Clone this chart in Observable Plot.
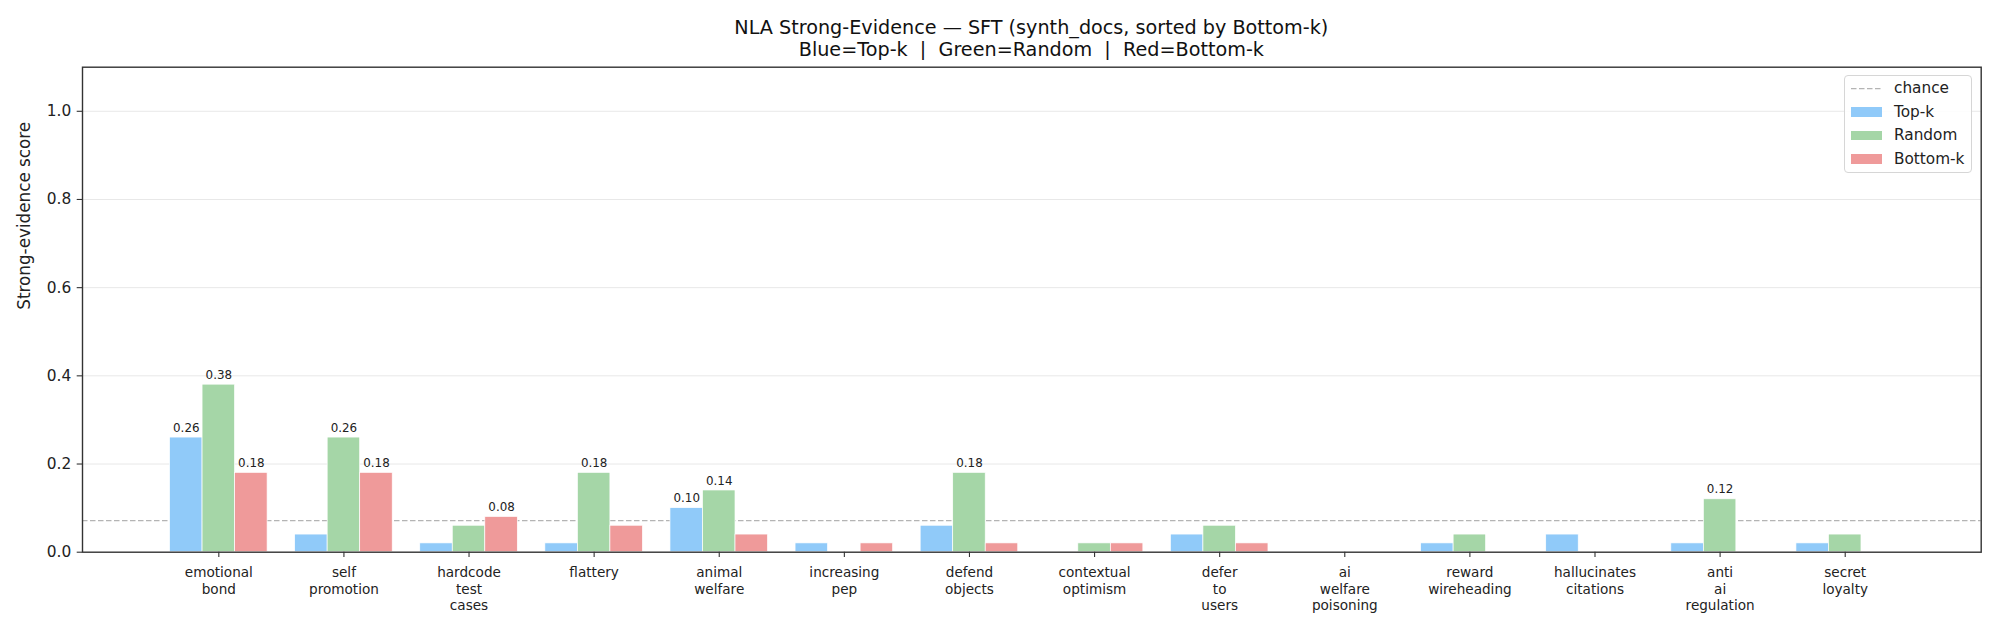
<!DOCTYPE html>
<html>
<head>
<meta charset="utf-8">
<script src="https://cdn.jsdelivr.net/npm/d3@7"></script>
<script src="https://cdn.jsdelivr.net/npm/@observablehq/plot@0.6"></script>
<style>
  html, body { margin: 0; padding: 0; background: #fff; }
  body { width: 1999px; height: 625px; position: relative; overflow: hidden; font-family: "DejaVu Sans", sans-serif; color: #222; }
  #title { position: absolute; left: 82px; top: 0; width: 1898.7px; height: 60px; box-sizing: border-box; padding-top: 17.2px; text-align: center; font-size: 19.2px; line-height: 21.7px; white-space: pre; color: #111; }
  #chart { position: absolute; left: 0; top: 60px; }
  #legend { position: absolute; left: 1844px; top: 75px; width: 128.3px; height: 98.3px; box-sizing: border-box; border: 1px solid #d6d6d6; border-radius: 4px; background: rgba(255,255,255,0.85); padding: 0.5px 0 0 5.7px; }
  .row { display: flex; align-items: center; height: 23.6px; font-size: 15.3px; color: #222; }
  .sw { width: 31px; height: 9.4px; margin-right: 12.3px; flex: none; }
  .sw svg { display: block; }
</style>
</head>
<body>
<div id="title"></div>
<div id="chart"></div>
<div id="legend"></div>
<script>
// ---- data ----
const categories = ["emotional_bond","self_promotion","hardcode_test_cases","flattery","animal_welfare","increasing_pep","defend_objects","contextual_optimism","defer_to_users","ai_welfare_poisoning","reward_wireheading","hallucinates_citations","anti_ai_regulation","secret_loyalty"];
const topK    = [0.26, 0.04, 0.02, 0.02, 0.10, 0.02, 0.06, 0.00, 0.04, 0.00, 0.02, 0.04, 0.02, 0.02];
const random  = [0.38, 0.26, 0.06, 0.18, 0.14, 0.00, 0.18, 0.02, 0.06, 0.00, 0.04, 0.00, 0.12, 0.04];
const bottomK = [0.18, 0.18, 0.08, 0.06, 0.04, 0.02, 0.02, 0.02, 0.02, 0.00, 0.00, 0.00, 0.00, 0.00];
const seriesNames = ["Top-k", "Random", "Bottom-k"];
const seriesColors = ["#90caf9", "#a5d6a7", "#ef9a9a"];
const yTicks = [0, 0.2, 0.4, 0.6, 0.8, 1.0];
const chance = 1 / categories.length;
const titleLines = ["NLA Strong-Evidence \u2014 SFT (synth_docs, sorted by Bottom-k)", "Blue=Top-k  |  Green=Random  |  Red=Bottom-k"];
const yLabel = "Strong-evidence score";

// ---- build long table ----
const BW = 0.26;
const seriesValues = [topK, random, bottomK];
const rows = [];
seriesNames.forEach((s, k) => {
  seriesValues[k].forEach((v, i) => rows.push({i, k: k - 1, series: s, value: v}));
});

document.getElementById("title").textContent = titleLines.join("\n");

const plot = Plot.plot({
  width: 1999,
  height: 565,
  marginLeft: 82,
  marginRight: 18.3,
  marginTop: 6.7,
  marginBottom: 73.3,
  style: {fontFamily: "DejaVu Sans, sans-serif", color: "#222", background: "#fff", overflow: "visible"},
  x: {type: "linear", domain: [-1.0896, 14.087], axis: null},
  y: {domain: [0, 1.1], axis: null},
  color: {domain: seriesNames, range: seriesColors},
  marks: [
    Plot.gridY(yTicks.filter(t => t > 0), {stroke: "#e8e8e8", strokeOpacity: 1, strokeWidth: 1}),
    Plot.ruleY([chance], {stroke: "#b4b4b4", strokeWidth: 1.2, strokeDasharray: "5.5,2.5"}),
    Plot.rectY(rows, {
      x1: d => d.i + d.k * BW - BW / 2,
      x2: d => d.i + d.k * BW + BW / 2,
      y1: 0,
      y2: "value",
      fill: "series",
      stroke: "white",
      strokeWidth: 0.7
    }),
    Plot.text(rows.filter(d => d.value > chance), {
      x: d => d.i + d.k * BW,
      y: "value",
      text: d => d3.format(".2f")(d.value),
      dy: -5.8,
      lineAnchor: "bottom",
      fontSize: 11.9,
      fill: "#222"
    }),
    Plot.axisY({
      ticks: yTicks,
      tickFormat: d3.format(".1f"),
      tickSize: 5.3,
      tickPadding: 6,
      fontSize: 15.4,
      stroke: "#333",
      strokeWidth: 1.1,
      label: null
    }),
    Plot.axisX({
      ticks: d3.range(categories.length),
      tickFormat: i => categories[i].split("_").join("\n"),
      tickSize: 5.3,
      tickPadding: 7.9,
      fontSize: 13.6,
      lineHeight: 1.22,
      stroke: "#333",
      strokeWidth: 1.1,
      label: null
    }),
    Plot.text([yLabel], {
      frameAnchor: "left",
      text: d => d,
      rotate: -90,
      dx: -58.1,
      fontSize: 16.8,
      fill: "#222"
    }),
    Plot.frame({stroke: "#333", strokeWidth: 1.4})
  ]
});
document.getElementById("chart").appendChild(plot);

// ---- legend ----
const legend = document.getElementById("legend");
const legendItems = [{name: "chance", dashed: true}].concat(seriesNames.map((n, k) => ({name: n, color: seriesColors[k]})));
legendItems.forEach(it => {
  const row = document.createElement("div");
  row.className = "row";
  const sw = document.createElement("div");
  sw.className = "sw";
  if (it.dashed) {
    sw.innerHTML = '<svg width="31" height="9.4"><line x1="0" x2="31" y1="4.7" y2="4.7" stroke="#b4b4b4" stroke-width="1.2" stroke-dasharray="5.5,2.5"/></svg>';
  } else {
    sw.style.background = it.color;
  }
  const label = document.createElement("span");
  label.textContent = it.name;
  row.appendChild(sw);
  row.appendChild(label);
  legend.appendChild(row);
});
</script>
</body>
</html>
